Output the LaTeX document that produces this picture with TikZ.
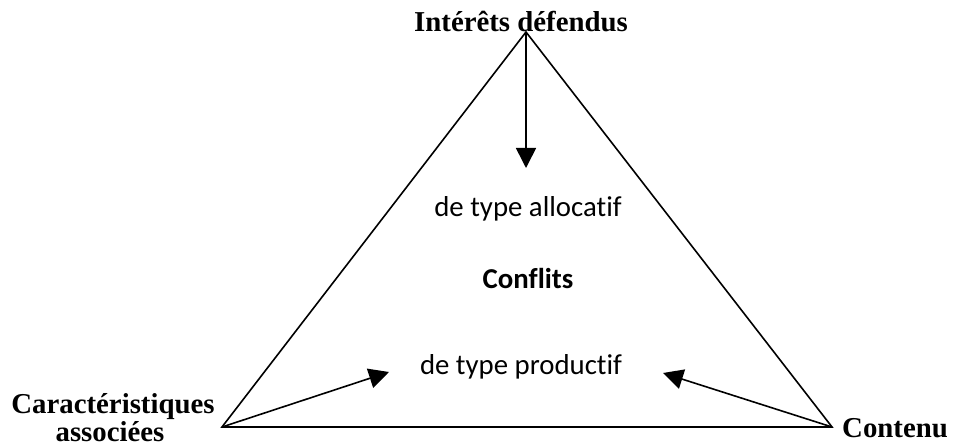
\documentclass[tikz,border=0pt]{standalone}
\usepackage{fontspec}
\setmainfont{Liberation Serif}
\newfontfamily\carl[Ligatures={NoCommon}]{Carlito}
\usetikzlibrary{arrows.meta}
\tikzset{
  edge/.style={line width=1.6pt, line join=miter},
  arr/.style={line width=1.6pt, -{Triangle[length=20pt,width=20pt]}},
  serlabel/.style={font=\fontsize{28.8}{34}\selectfont\bfseries, inner sep=0pt},
  callabel/.style={font=\carl\fontsize{28.8}{34}\selectfont, inner sep=0pt},
}
\begin{document}
\begin{tikzpicture}[x=1pt,y=-1pt]
\useasboundingbox (0,0) rectangle (958,446);
\coordinate (A) at (526,32);
\coordinate (BL) at (222,427);
\coordinate (BR) at (832,427);
\coordinate (tipTop) at (526,168);
\coordinate (tipLeft) at (389,372);
\coordinate (tipRight) at (663,373);
\draw[edge] (A) -- (BL) -- (BR) -- cycle;
\draw[arr] (A) -- (tipTop);
\draw[arr] (BL) -- (tipLeft);
\draw[arr] (BR) -- (tipRight);
\node[serlabel, anchor=base] (interets) at (521,32) {Intérêts défendus};
\node[serlabel, anchor=base] (car1) at (113,413) {Caractéristiques};
\node[serlabel, anchor=base] (car2) at (110,441) {associées};
\node[serlabel, anchor=base west] (contenu) at (842,437) {Contenu};
\node[callabel, anchor=base] (alloc) at (528,217) {de type allocatif};
\node[callabel, anchor=base, font=\carl\fontsize{28.8}{34}\selectfont\bfseries] (conflits) at (528,288) {Conflits};
\node[callabel, anchor=base] (prod) at (521,374) {de type productif};
\end{tikzpicture}
\end{document}
